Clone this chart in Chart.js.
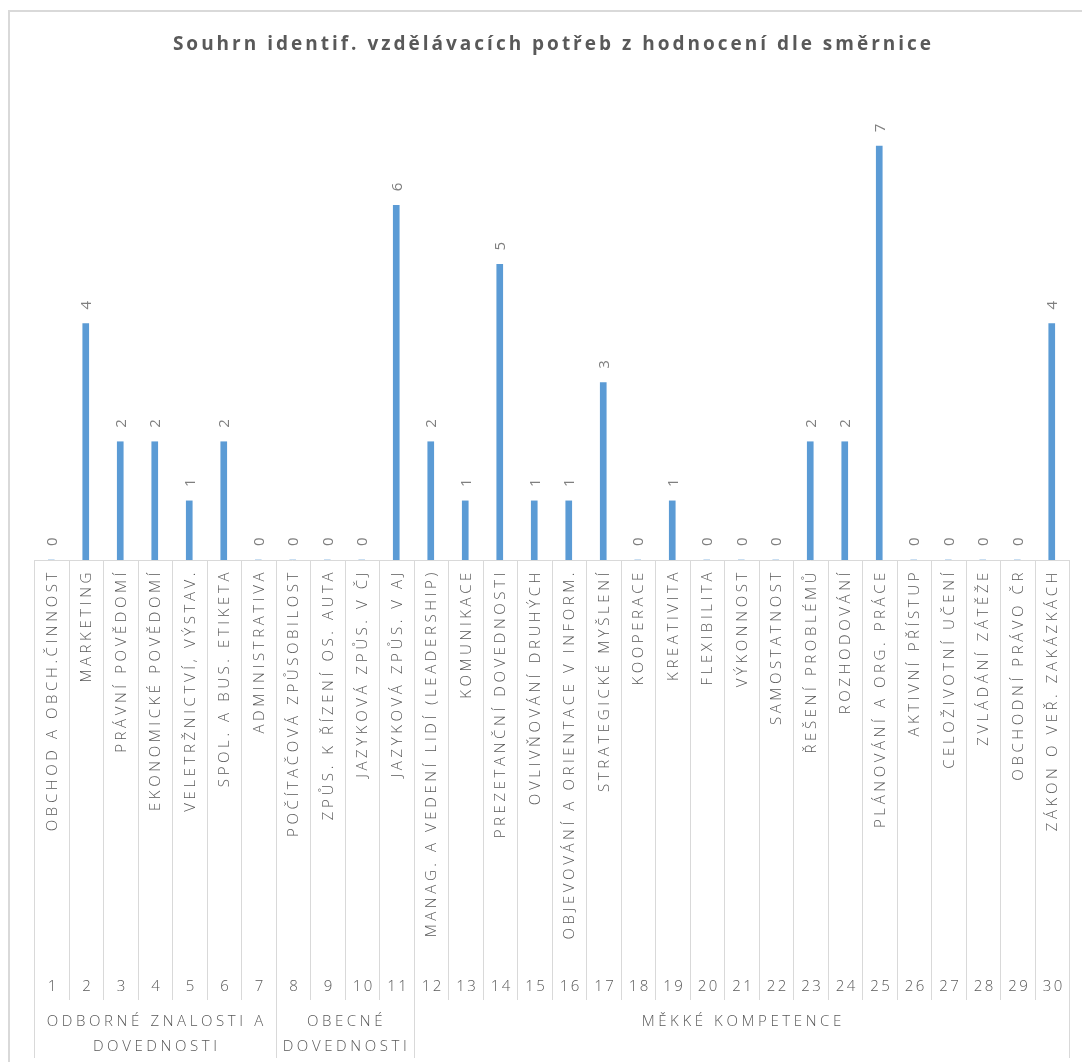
<!DOCTYPE html>
<html lang="cs">
<head>
<meta charset="utf-8">
<title>Souhrn identif. vzdělávacích potřeb z hodnocení dle směrnice</title>
<script src="https://cdn.jsdelivr.net/npm/chart.js@4/dist/chart.umd.min.js"></script>
<style>
  html, body { margin: 0; padding: 0; background: #ffffff; }
  #wrap { width: 1082px; height: 1062px; position: relative; }
</style>
</head>
<body>
<div id="wrap"><canvas id="chart" width="1082" height="1062"></canvas></div>
<script>
// Chart title
const chartTitle = 'Souhrn identif. vzdělávacích potřeb z hodnocení dle směrnice';

// Competence names (first axis row)
const categories = [
  'OBCHOD A OBCH.ČINNOST',
  'MARKETING',
  'PRÁVNÍ POVĚDOMÍ',
  'EKONOMICKÉ POVĚDOMÍ',
  'VELETRŽNICTVÍ, VÝSTAV.',
  'SPOL. A BUS. ETIKETA',
  'ADMINISTRATIVA',
  'POČÍTAČOVÁ ZPŮSOBILOST',
  'ZPŮS. K ŘÍZENÍ OS. AUTA',
  'JAZYKOVÁ ZPŮS. V ČJ',
  'JAZYKOVÁ ZPŮS. V AJ',
  'MANAG. A VEDENÍ LIDÍ (LEADERSHIP)',
  'KOMUNIKACE',
  'PREZETANČNÍ DOVEDNOSTI',
  'OVLIVŇOVÁNÍ DRUHÝCH',
  'OBJEVOVÁNÍ A ORIENTACE V INFORM.',
  'STRATEGICKÉ MYŠLENÍ',
  'KOOPERACE',
  'KREATIVITA',
  'FLEXIBILITA',
  'VÝKONNOST',
  'SAMOSTATNOST',
  'ŘEŠENÍ PROBLÉMŮ',
  'ROZHODOVÁNÍ',
  'PLÁNOVÁNÍ A ORG. PRÁCE',
  'AKTIVNÍ PŘÍSTUP',
  'CELOŽIVOTNÍ UČENÍ',
  'ZVLÁDÁNÍ ZÁTĚŽE',
  'OBCHODNÍ PRÁVO ČR',
  'ZÁKON O VEŘ. ZAKÁZKÁCH'
];

// Item numbers (second axis row)
const itemNumbers = [
  '1','2','3','4','5','6','7','8','9','10',
  '11','12','13','14','15','16','17','18','19','20',
  '21','22','23','24','25','26','27','28','29','30'
];

// Groups (third axis row): label lines and number of items in each group
const groupLabels = [
  ['ODBORNÉ ZNALOSTI A', 'DOVEDNOSTI'],
  ['OBECNÉ', 'DOVEDNOSTI'],
  ['MĚKKÉ KOMPETENCE']
];
const groupSizes = [7, 4, 19];

// Number of identified needs per item
const needCounts = [
  0, 4, 2, 2, 1, 2, 0, 0, 0, 0,
  6, 2, 1, 5, 1, 1, 3, 0, 1, 0,
  0, 0, 2, 2, 7, 0, 0, 0, 0, 4
];

const BAR_COLOR = '#5b9bd5';
const TEXT_COLOR = '#595959';
const LABEL_COLOR = '#7f7f7f';
const LINE_COLOR = '#d9d9d9';
const FONT = '"Open Sans", "DejaVu Sans", sans-serif';

// Draws the frame, title, value labels and the three-row category axis
const decorations = {
  id: 'decorations',
  beforeDraw(chart) {
    const ctx = chart.ctx;
    ctx.save();
    ctx.fillStyle = '#ffffff';
    ctx.fillRect(0, 0, chart.width, chart.height);
    ctx.strokeStyle = LINE_COLOR;
    ctx.lineWidth = 2;
    ctx.beginPath();
    ctx.moveTo(9, chart.height);
    ctx.lineTo(9, 11);
    ctx.lineTo(chart.width, 11);
    ctx.stroke();
    ctx.restore();
  },
  afterDraw(chart) {
    const ctx = chart.ctx;
    const area = chart.chartArea;
    const x = chart.scales.x;
    const edge = i => x.getPixelForValue(i - 0.5);
    const n = categories.length;

    // title
    ctx.save();
    ctx.fillStyle = TEXT_COLOR;
    ctx.font = 'bold 19px ' + FONT;
    ctx.letterSpacing = '3px';
    ctx.textAlign = 'center';
    ctx.textBaseline = 'middle';
    ctx.fillText(chartTitle, (area.left + area.right) / 2 + 2, 45);
    ctx.restore();

    // value labels above bars
    const meta = chart.getDatasetMeta(0);
    ctx.save();
    ctx.fillStyle = LABEL_COLOR;
    ctx.font = '15px ' + FONT;
    ctx.textAlign = 'left';
    ctx.textBaseline = 'middle';
    meta.data.forEach((bar, i) => {
      ctx.save();
      ctx.translate(bar.x + 1, bar.y - 14);
      ctx.rotate(-Math.PI / 2);
      ctx.fillText(String(needCounts[i]), 0, 0);
      ctx.restore();
    });
    ctx.restore();

    // axis geometry
    const axisY = area.bottom;
    const row2Bottom = 1000;
    const row3Bottom = 1058;

    ctx.save();
    ctx.strokeStyle = LINE_COLOR;
    ctx.lineWidth = 1;
    ctx.beginPath();
    ctx.moveTo(edge(0), axisY + 0.5);
    ctx.lineTo(edge(n), axisY + 0.5);
    // dividers between items
    for (let i = 0; i <= n; i++) {
      const px = Math.round(edge(i)) + 0.5;
      ctx.moveTo(px, axisY);
      ctx.lineTo(px, row2Bottom);
    }
    // dividers between groups
    let start = 0;
    const groupEdges = [0];
    groupSizes.forEach(s => { start += s; groupEdges.push(start); });
    groupEdges.forEach(g => {
      const px = Math.round(edge(g)) + 0.5;
      ctx.moveTo(px, row2Bottom);
      ctx.lineTo(px, row3Bottom);
    });
    ctx.stroke();

    // row 1: rotated competence names
    ctx.fillStyle = TEXT_COLOR;
    ctx.font = '300 15px ' + FONT;
    ctx.letterSpacing = '3.6px';
    ctx.textAlign = 'right';
    ctx.textBaseline = 'middle';
    categories.forEach((name, i) => {
      ctx.save();
      ctx.translate(x.getPixelForValue(i) + 1, axisY + 9);
      ctx.rotate(-Math.PI / 2);
      ctx.fillText(name, 0, 0);
      ctx.restore();
    });

    // row 2: item numbers
    ctx.font = '300 15px ' + FONT;
    ctx.letterSpacing = '2.5px';
    ctx.textAlign = 'center';
    itemNumbers.forEach((num, i) => {
      ctx.fillText(num, x.getPixelForValue(i) + 2, 987);
    });

    // row 3: group names
    ctx.font = '300 15px ' + FONT;
    ctx.letterSpacing = '3.6px';
    groupLabels.forEach((lines, g) => {
      const cx = (edge(groupEdges[g]) + edge(groupEdges[g + 1])) / 2 + 2;
      lines.forEach((line, k) => {
        ctx.fillText(line, cx, 1022 + k * 25);
      });
    });
    ctx.restore();
  }
};

new Chart(document.getElementById('chart'), {
  type: 'bar',
  data: {
    labels: categories,
    datasets: [{
      data: needCounts,
      backgroundColor: BAR_COLOR,
      borderWidth: 0,
      barThickness: 6
    }]
  },
  options: {
    responsive: false,
    animation: false,
    layout: { padding: { left: 34, right: 13, top: 87, bottom: 502 } },
    plugins: {
      legend: { display: false },
      title: { display: false },
      tooltip: { enabled: false }
    },
    scales: {
      x: { display: false, offset: true },
      y: { display: false, min: 0, max: 8 }
    }
  },
  plugins: [decorations]
});
</script>
</body>
</html>
